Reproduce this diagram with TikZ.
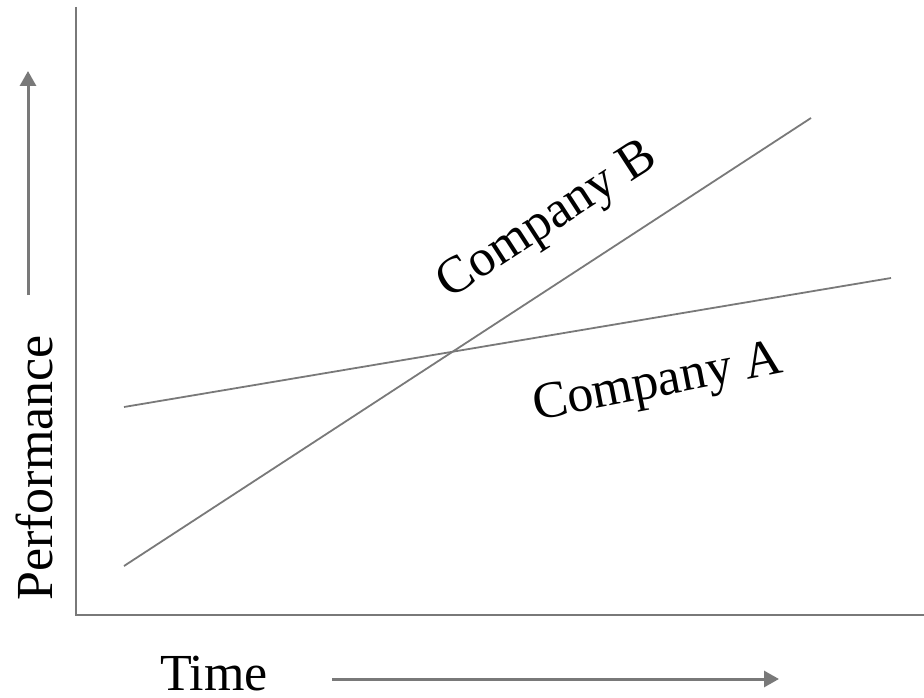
\documentclass[tikz,border=0pt]{standalone}
\usepackage{fontspec}
\setmainfont{Liberation Serif}
\usetikzlibrary{arrows.meta}
\tikzset{
  axisline/.style={draw=gray!95!black, line width=2.2pt},
  trendline/.style={draw=gray!95!black, line width=1.8pt},
  dirarrow/.style={draw=gray!95!black, line width=3pt, -{Triangle[length=15pt,width=16pt]}},
  lbl/.style={inner sep=0pt, font=\fontsize{52}{60}\selectfont, text=black}
}
\begin{document}
\begin{tikzpicture}[x=1pt,y=-1pt]
\useasboundingbox (0,0) rectangle (924,698);
% axes
\coordinate (ytop) at (76,7);
\coordinate (origin) at (76,615);
\coordinate (xend) at (924,615);
\draw[axisline] (ytop) -- (origin) -- (xend);
% company lines
\coordinate (a1) at (124,407);
\coordinate (a2) at (891,278);
\coordinate (b1) at (124,566);
\coordinate (b2) at (811,118);
\draw[trendline] (a1) -- (a2);
\draw[trendline] (b1) -- (b2);
% direction arrows
\coordinate (pa1) at (28,295);
\coordinate (pa2) at (28,71);
\draw[dirarrow] (pa1) -- (pa2);
\coordinate (ta1) at (332,679);
\coordinate (ta2) at (779,679);
\draw[dirarrow] (ta1) -- (ta2);
% labels
\node[lbl, anchor=base, rotate=90] (perf) at (52,468) {Performance};
\node[lbl, anchor=base] (time) at (214,690) {Time};
\node[lbl, rotate=33] (compB) at (548,222) {Company B};
\node[lbl, rotate=11] (compA) at (658,385) {Company A};
\end{tikzpicture}
\end{document}
